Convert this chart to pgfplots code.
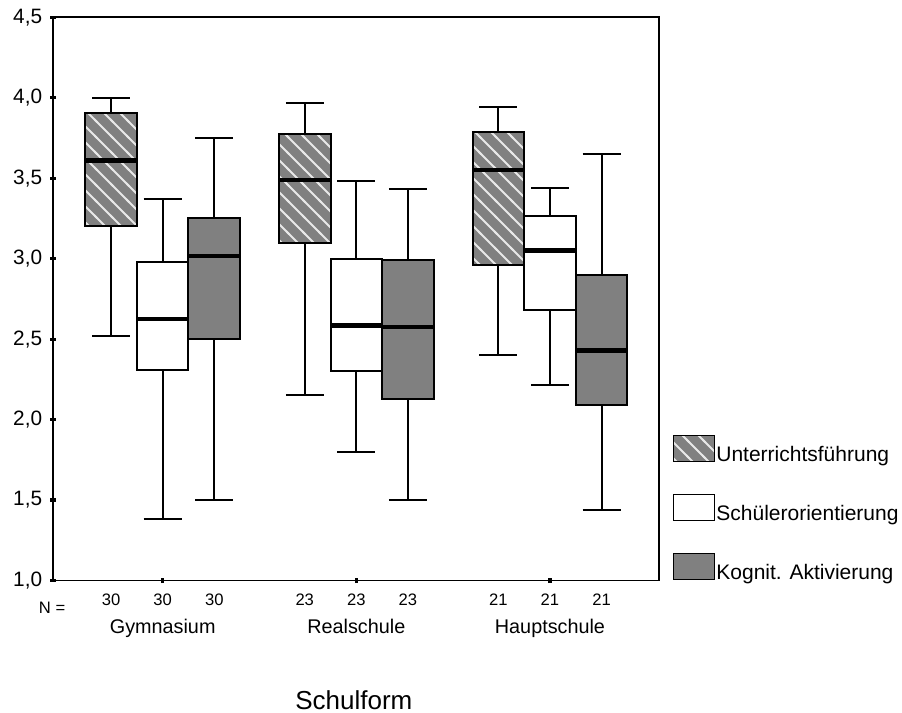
\documentclass[border=0pt]{standalone}
\usepackage{fontspec}
\setmainfont{Liberation Sans}
\usepackage{pgfplots}
\pgfplotsset{compat=1.18}
\usepgfplotslibrary{statistics}
\usetikzlibrary{patterns}
\definecolor{spssgray}{HTML}{808080}
\pgfdeclarepatternformonly{spsslines}{\pgfqpoint{-1pt}{-1pt}}{\pgfqpoint{9pt}{9pt}}{\pgfqpoint{8pt}{8pt}}{%
  \pgfsetlinewidth{0.9pt}%
  \pgfpathmoveto{\pgfqpoint{-1pt}{9pt}}%
  \pgfpathlineto{\pgfqpoint{9pt}{-1pt}}%
  \pgfusepath{stroke}%
}
\pgfplotsset{
  common/.style={
    draw=black,
    boxplot/draw direction=y,
    boxplot/box extend=0.2665,
    boxplot/whisker extend=0.196,
    boxplot/every whisker/.style={draw=black,line width=1pt},
    boxplot/every median/.style={draw=black,line width=2.2pt},
  },
  ustyle/.style={common,
    boxplot/every box/.style={draw=black,line width=1pt,fill=spssgray,
      postaction={pattern=spsslines,pattern color=white!82!gray}}},
  sstyle/.style={common,
    boxplot/every box/.style={draw=black,line width=1pt,fill=white}},
  kstyle/.style={common,
    boxplot/every box/.style={draw=black,line width=1pt,fill=spssgray}},
}
\begin{document}
\begin{tikzpicture}
\useasboundingbox (-26.5pt,-66.25pt) rectangle (424.5pt,290.25pt);
\begin{axis}[
  anchor=south west, at={(0pt,0pt)},
  scale only axis,
  width=303pt, height=281.6pt,
  xmin=-0.5665, xmax=2.563,
  ymin=1, ymax=4.5,
  axis line style={line width=0.9pt},
  ytick={1,1.5,2,2.5,3,3.5,4,4.5},
  yticklabels={{1,0},{1,5},{2,0},{2,5},{3,0},{3,5},{4,0},{4,5}},
  yticklabel style={font=\fontsize{10.4}{11}\selectfont, xshift=-0.6pt},
  tick align=center,
  major tick length=2.6pt,
  ytick pos=left, xtick pos=bottom,
  tick style={line width=1.6pt, black},
  xtick={0,1,2},
  xticklabels={},
  extra x ticks={-0.2665,0,0.2665,0.7335,1,1.2665,1.7335,2,2.2665},
  extra x tick labels={30,30,30,23,23,23,21,21,21},
  extra x tick style={major tick length=0pt,
    xticklabel style={font=\fontsize{8.3}{9}\selectfont, yshift=-3pt}},
  legend style={at={(1,0)}, anchor=south west, xshift=3.6pt, yshift=-3.8pt,
    draw=none, fill=none, row sep=13.9pt,
    font=\fontsize{10.5}{11}\selectfont,
    nodes={inner sep=0.6pt}},
  legend cell align=left,
  clip=false,
]
% Gymnasium
\addplot[ustyle, legend image code/.code={\draw[line width=0.8pt,fill=spssgray,postaction={pattern=spsslines,pattern color=white!82!gray}] (0pt,-3pt) rectangle (20.5pt,10pt);},
  boxplot prepared={draw position=-0.2665, lower whisker=2.52, lower quartile=3.20, median=3.61, upper quartile=3.905, upper whisker=4.00}] coordinates {};
\addlegendentry{Unterrichtsführung}
\addplot[sstyle, legend image code/.code={\draw[line width=0.8pt,fill=white] (0pt,-3pt) rectangle (20.5pt,10pt);},
  boxplot prepared={draw position=0, lower whisker=1.38, lower quartile=2.31, median=2.625, upper quartile=2.98, upper whisker=3.37}] coordinates {};
\addlegendentry{Schülerorientierung}
\addplot[kstyle, legend image code/.code={\draw[line width=0.8pt,fill=spssgray] (0pt,-3pt) rectangle (20.5pt,10pt);},
  boxplot prepared={draw position=0.2665, lower whisker=1.50, lower quartile=2.50, median=3.015, upper quartile=3.25, upper whisker=3.75}] coordinates {};
\addlegendentry{Kognit. Aktivierung}
% Realschule
\addplot[ustyle, forget plot,
  boxplot prepared={draw position=0.7335, lower whisker=2.155, lower quartile=3.10, median=3.49, upper quartile=3.775, upper whisker=3.965}] coordinates {};
\addplot[sstyle, forget plot,
  boxplot prepared={draw position=1, lower whisker=1.80, lower quartile=2.30, median=2.585, upper quartile=3.00, upper whisker=3.48}] coordinates {};
\addplot[kstyle, forget plot,
  boxplot prepared={draw position=1.2665, lower whisker=1.50, lower quartile=2.13, median=2.575, upper quartile=2.99, upper whisker=3.43}] coordinates {};
% Hauptschule
\addplot[ustyle, forget plot,
  boxplot prepared={draw position=1.7335, lower whisker=2.40, lower quartile=2.96, median=3.55, upper quartile=3.785, upper whisker=3.94}] coordinates {};
\addplot[sstyle, forget plot,
  boxplot prepared={draw position=2, lower whisker=2.215, lower quartile=2.68, median=3.05, upper quartile=3.265, upper whisker=3.44}] coordinates {};
\addplot[kstyle, forget plot,
  boxplot prepared={draw position=2.2665, lower whisker=1.44, lower quartile=2.09, median=2.43, upper quartile=2.90, upper whisker=3.65}] coordinates {};
% labels below
\node[font=\fontsize{8.3}{9}\selectfont, anchor=base] at ([yshift=-16.3pt]axis cs:-0.571,1) {N =};
\node[font=\fontsize{9.9}{11}\selectfont, anchor=base] at ([yshift=-26.4pt]axis cs:0,1) {Gymnasium};
\node[font=\fontsize{9.9}{11}\selectfont, anchor=base] at ([yshift=-26.4pt]axis cs:1,1) {Realschule};
\node[font=\fontsize{9.9}{11}\selectfont, anchor=base] at ([yshift=-26.4pt]axis cs:2,1) {Hauptschule};
\node[font=\fontsize{13}{15}\selectfont, anchor=base] at ([yshift=-64.7pt]axis cs:0.987,1) {Schulform};
\end{axis}
\end{tikzpicture}
\end{document}
